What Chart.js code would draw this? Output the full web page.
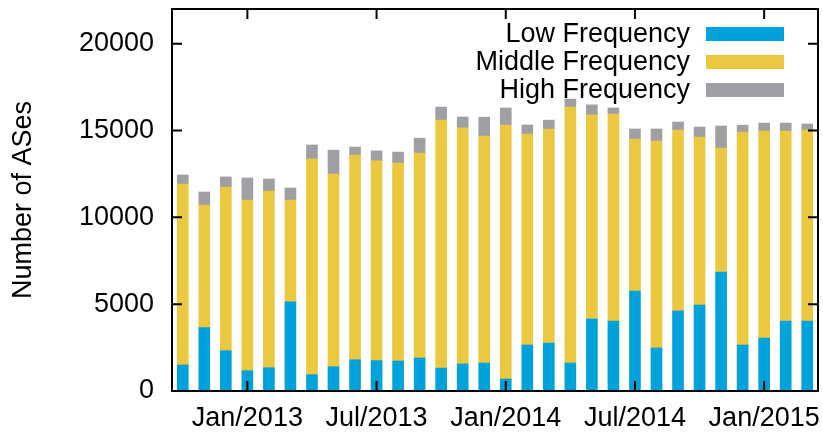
<!DOCTYPE html>
<html lang="en">

<head>
  <meta charset="UTF-8">
  <title>Number of ASes</title>
  <!-- Chart.js -->
  <script src="https://cdn.jsdelivr.net/npm/chart.js"></script>
  <style>
    body { margin: 0; background: #fff; }
    #wrap { width: 823px; height: 433px; }
  </style>
</head>

<body>
  <div id="wrap"><canvas id="asChart"></canvas></div>

  <script>
    // Monthly snapshots, Oct/2012 to Mar/2015
    const months = [
      'Oct/2012', 'Nov/2012', 'Dec/2012',
      'Jan/2013', 'Feb/2013', 'Mar/2013', 'Apr/2013', 'May/2013', 'Jun/2013',
      'Jul/2013', 'Aug/2013', 'Sep/2013', 'Oct/2013', 'Nov/2013', 'Dec/2013',
      'Jan/2014', 'Feb/2014', 'Mar/2014', 'Apr/2014', 'May/2014', 'Jun/2014',
      'Jul/2014', 'Aug/2014', 'Sep/2014', 'Oct/2014', 'Nov/2014', 'Dec/2014',
      'Jan/2015', 'Feb/2015', 'Mar/2015'
    ];
    const lowFreq = [1500, 3650, 2320, 1170, 1340, 5140, 940, 1400, 1800, 1750,
      1730, 1900, 1320, 1560, 1610, 690, 2650, 2760, 1610, 4150,
      4030, 5760, 2480, 4610, 4950, 6850, 2650, 3050, 4030, 4030];
    const midFreq = [10420, 7060, 9430, 9830, 10180, 5860, 12420, 11090, 11790, 11500,
      11400, 11800, 14280, 13590, 13070, 14630, 12150, 12320, 14740, 11750,
      11920, 8750, 11920, 10420, 9670, 7140, 12260, 11920, 10940, 11000];
    const highFreq = [520, 750, 580, 1270, 690, 690, 810, 1380, 460, 580,
      630, 860, 750, 630, 1090, 980, 520, 520, 460, 580,
      350, 580, 690, 460, 580, 1270, 400, 460, 460, 350];

    const yTicks = [0, 5000, 10000, 15000, 20000];
    const xTickLabels = ['Jan/2013', 'Jul/2013', 'Jan/2014', 'Jul/2014', 'Jan/2015'];

    const FONT = '"Liberation Sans", Arial, sans-serif';
    Chart.defaults.font.family = FONT;
    Chart.defaults.font.size = 27;
    Chart.defaults.color = '#000';

    // gnuplot-style frame with inward ticks on all four sides
    const framePlugin = {
      id: 'frame',
      afterDatasetsDraw(chart) {
        const { ctx, chartArea: a, scales: { x, y } } = chart;
        const len = 10;
        ctx.save();
        ctx.strokeStyle = '#000';
        ctx.lineWidth = 2;
        ctx.beginPath();
        yTicks.forEach(v => {
          const py = y.getPixelForValue(v);
          ctx.moveTo(a.left, py); ctx.lineTo(a.left + len, py);
          ctx.moveTo(a.right, py); ctx.lineTo(a.right - len, py);
        });
        xTickLabels.forEach(l => {
          const px = x.getPixelForValue(months.indexOf(l));
          ctx.moveTo(px, a.bottom); ctx.lineTo(px, a.bottom - len);
          ctx.moveTo(px, a.top); ctx.lineTo(px, a.top + len);
        });
        ctx.stroke();
        ctx.strokeRect(a.left, a.top, a.right - a.left, a.bottom - a.top);
        ctx.restore();
      }
    };

    // key in the top right: right-aligned text, colour bar after it
    const keyPlugin = {
      id: 'key',
      afterDraw(chart) {
        const { ctx, chartArea: a } = chart;
        ctx.save();
        ctx.font = '27px ' + FONT;
        ctx.textAlign = 'right';
        ctx.textBaseline = 'middle';
        chart.data.datasets.forEach((ds, i) => {
          const cy = a.top + 25 + i * 28;
          ctx.fillStyle = '#000';
          ctx.fillText(ds.label, a.right - 128, cy + 1);
          ctx.fillStyle = ds.backgroundColor;
          ctx.fillRect(a.right - 112, cy - 7, 78, 14);
        });
        ctx.restore();
      }
    };

    const ctx = document.getElementById('asChart').getContext('2d');
    new Chart(ctx, {
      type: 'bar',
      data: {
        labels: months,
        datasets: [
          { label: 'Low Frequency', data: lowFreq, backgroundColor: 'rgb(0,162,219)' },
          { label: 'Middle Frequency', data: midFreq, backgroundColor: 'rgb(236,199,64)' },
          { label: 'High Frequency', data: highFreq, backgroundColor: 'rgb(160,159,164)' }
        ]
      },
      options: {
        responsive: true,
        maintainAspectRatio: false,
        animation: false,
        layout: { padding: { top: 0, right: 5, left: 0, bottom: 0 } },
        datasets: { bar: { barThickness: 11 } },
        plugins: {
          legend: { display: false },
          tooltip: { enabled: false }
        },
        scales: {
          x: {
            stacked: true,
            grid: { display: false, drawTicks: false },
            border: { display: false },
            afterFit: s => { s.height = 42; s.paddingLeft = 0; s.paddingRight = 0; },
            ticks: {
              autoSkip: false,
              maxRotation: 0,
              padding: 11,
              callback: (v, i) => xTickLabels.includes(months[i]) ? months[i] : ''
            }
          },
          y: {
            stacked: true,
            min: 0,
            max: 22000,
            grid: { display: false, drawTicks: false },
            border: { display: false },
            afterBuildTicks: s => { s.ticks = yTicks.map(v => ({ value: v })); },
            afterFit: s => { s.width = 172; s.paddingTop = 9; s.paddingBottom = 0; },
            ticks: { padding: 18, callback: v => String(v) },
            title: {
              display: true,
              text: 'Number of ASes',
              padding: { top: 7, bottom: 0 }
            }
          }
        }
      },
      plugins: [framePlugin, keyPlugin]
    });
  </script>
</body>

</html>
